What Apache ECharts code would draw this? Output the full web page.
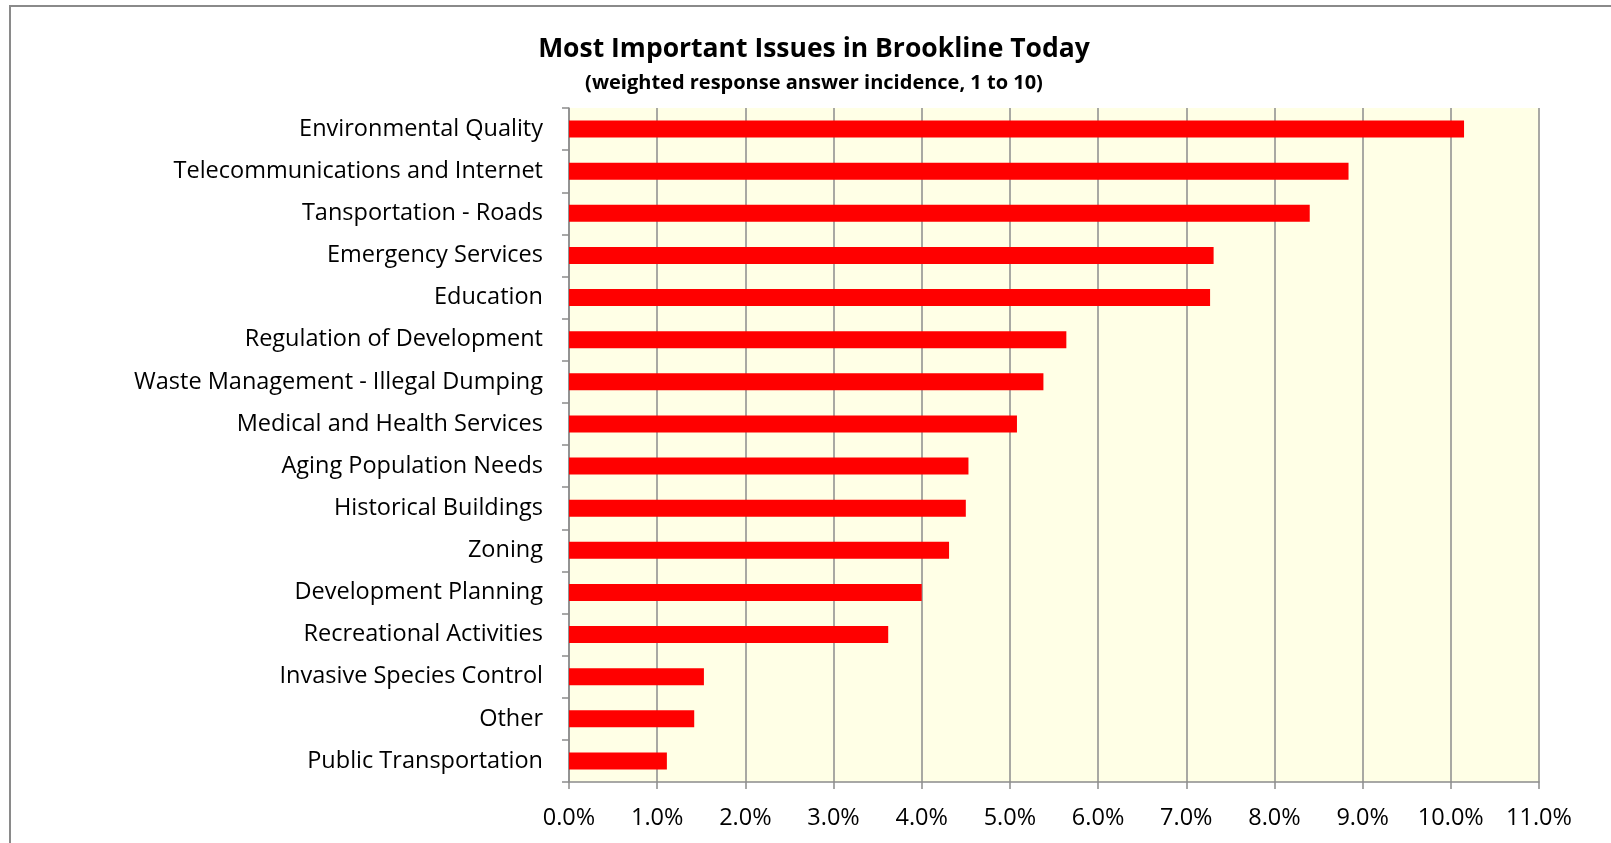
<!DOCTYPE html>
<html>
<head>
<meta charset="utf-8">
<script src="https://cdn.jsdelivr.net/npm/echarts@6/dist/echarts.min.js"></script>
<style>
html,body{margin:0;padding:0;background:#fff;}
#chart{width:1611px;height:843px;}
</style>
</head>
<body>
<div id="chart"></div>
<script>
const categories = [
  "Environmental Quality",
  "Telecommunications and Internet",
  "Tansportation - Roads",
  "Emergency Services",
  "Education",
  "Regulation of Development",
  "Waste Management - Illegal Dumping",
  "Medical and Health Services",
  "Aging Population Needs",
  "Historical Buildings",
  "Zoning",
  "Development Planning",
  "Recreational Activities",
  "Invasive Species Control",
  "Other",
  "Public Transportation"
];
const values = [10.15, 8.84, 8.40, 7.31, 7.27, 5.64, 5.38, 5.08, 4.53, 4.50, 4.31, 4.00, 3.62, 1.53, 1.42, 1.11];
const titleText = "Most Important Issues in Brookline Today";
const subtitleText = "(weighted response answer incidence, 1 to 10)";

const chart = echarts.init(document.getElementById('chart'));
const FONT = "'Open Sans', 'Noto Sans', sans-serif";
chart.setOption({
  animation: false,
  backgroundColor: '#ffffff',
  title: {
    text: titleText,
    subtext: subtitleText,
    left: 809,
    top: 28,
    textAlign: 'center',
    itemGap: 6,
    textStyle: { fontFamily: FONT, fontSize: 26.5, fontWeight: 'bold', color: '#000', lineHeight: 32 },
    subtextStyle: { fontFamily: FONT, fontSize: 20, fontWeight: 'bold', color: '#000', lineHeight: 24 }
  },
  graphic: [{
    type: 'rect',
    shape: { x: 10, y: 6, width: 1700, height: 900 },
    style: { fill: 'none', stroke: '#8a8a8a', lineWidth: 2 },
    silent: true, z: -1
  }],
  grid: {
    left: 569, right: 72, top: 108, bottom: 61,
    show: true, backgroundColor: '#FFFFE6', borderWidth: 0
  },
  xAxis: {
    type: 'value', min: 0, max: 11, interval: 1,
    axisLine: { show: true, lineStyle: { color: '#8c8c8c', width: 1.5 } },
    axisTick: { show: true, length: 7, lineStyle: { color: '#8c8c8c', width: 1.5 } },
    splitLine: { show: true, lineStyle: { color: '#8c8c8c', width: 1.5 } },
    axisLabel: { margin: 24, fontFamily: FONT, fontSize: 23.5, color: '#000',
      formatter: v => v.toFixed(1) + '%' }
  },
  yAxis: {
    type: 'category', data: categories, inverse: true,
    axisLine: { show: true, lineStyle: { color: '#8c8c8c', width: 1.5 } },
    axisTick: { show: true, length: 7, alignWithLabel: false, lineStyle: { color: '#8c8c8c', width: 1.5 } },
    splitLine: { show: false },
    axisLabel: { margin: 26, fontFamily: FONT, fontSize: 23.5, color: '#000' }
  },
  series: [{
    type: 'bar', data: values, barWidth: 17,
    itemStyle: { color: '#FF0000' }
  }]
});
</script>
</body>
</html>
